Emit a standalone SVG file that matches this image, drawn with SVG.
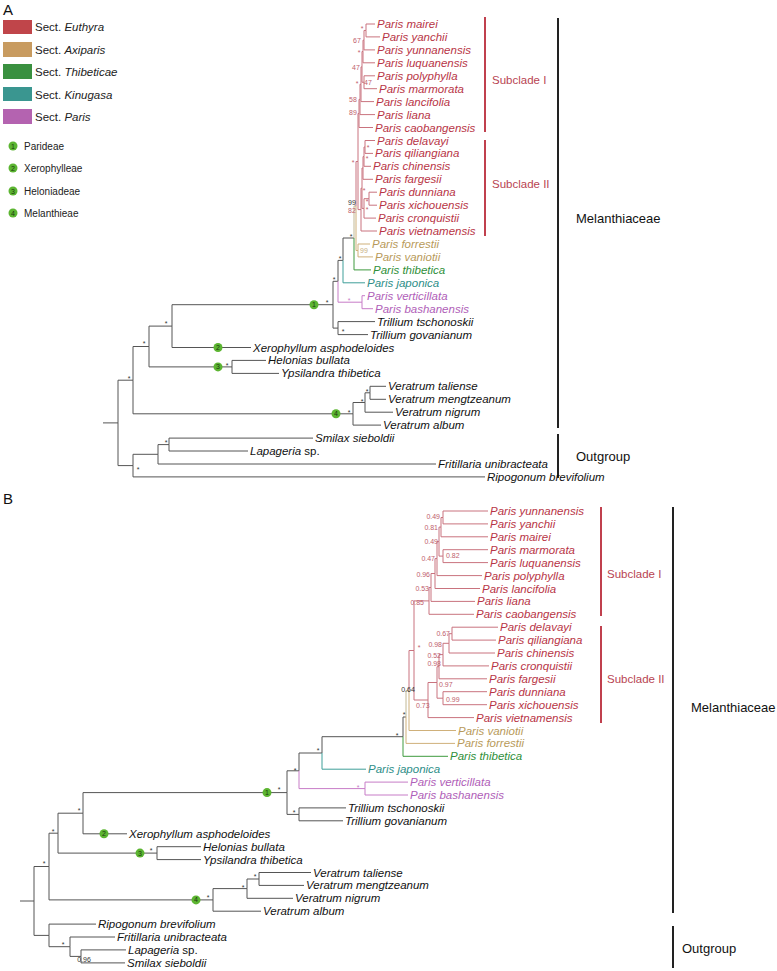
<svg xmlns="http://www.w3.org/2000/svg" width="777" height="971" viewBox="0 0 777 971">
<style>
text{font-family:"Liberation Sans",Arial,sans-serif;}
.t{font-size:11.5px;font-style:italic;}
.n{font-style:normal;}
.eu{fill:#b83546}.ax{fill:#b89a5a}.th{fill:#2f8f3a}.ki{fill:#2e8e88}.pa{fill:#b060b8}.bk{fill:#111}
.s{font-size:7px;fill:#333;text-anchor:middle}
.sr{font-size:7px;fill:#c0606c}
.l{fill:none;stroke:#555;stroke-width:1}
.le{fill:none;stroke:#c9737e;stroke-width:1}
.la{fill:none;stroke:#cfb07a;stroke-width:1}
.lo{fill:none;stroke:#c2b894;stroke-width:1}
.lt{fill:none;stroke:#3e9a3e;stroke-width:1}
.lk{fill:none;stroke:#3f9f99;stroke-width:1}
.lp{fill:none;stroke:#c77cc7;stroke-width:1}
.bar{stroke:#222;stroke-width:2}
.rbar{stroke:#c0404e;stroke-width:2}
.big{font-size:13px;fill:#111}
.sub{font-size:11.5px;fill:#b84452}
.leg{font-size:11.5px;fill:#222}
.leg2{font-size:10px;fill:#222}
.dot{fill:#5cb531}
.dn{font-size:7px;fill:#1a3a10;text-anchor:middle}
</style>

<!-- Panel labels and legend -->
<text x="3" y="15" style="font-size:15px" fill="#111">A</text>
<text x="3" y="504" style="font-size:15px" fill="#111">B</text>
<g id="legend-euthyra"><rect x="3" y="20" width="29" height="14" fill="#c0454a"/><text class="leg" x="35" y="31">Sect. <tspan font-style="italic">Euthyra</tspan></text></g>
<g id="legend-axiparis"><rect x="3" y="42" width="29" height="15" fill="#c89b60"/><text class="leg" x="35" y="54">Sect. <tspan font-style="italic">Axiparis</tspan></text></g>
<g id="legend-thibeticae"><rect x="3" y="64" width="29" height="15" fill="#3a9040"/><text class="leg" x="35" y="76">Sect. <tspan font-style="italic">Thibeticae</tspan></text></g>
<g id="legend-kinugasa"><rect x="3" y="87" width="29" height="14" fill="#3a9690"/><text class="leg" x="35" y="99">Sect. <tspan font-style="italic">Kinugasa</tspan></text></g>
<g id="legend-paris"><rect x="3" y="109" width="29" height="15" fill="#b463b0"/><text class="leg" x="35" y="121">Sect. <tspan font-style="italic">Paris</tspan></text></g>
<g id="legend-1"><circle class="dot" cx="13" cy="146" r="4.5"/><text class="dn" x="13" y="148.5">1</text><text class="leg2" x="24" y="149.5">Parideae</text></g>
<g id="legend-2"><circle class="dot" cx="13" cy="168" r="4.5"/><text class="dn" x="13" y="170.5">2</text><text class="leg2" x="24" y="171.5">Xerophylleae</text></g>
<g id="legend-3"><circle class="dot" cx="13" cy="191" r="4.5"/><text class="dn" x="13" y="193.5">3</text><text class="leg2" x="24" y="194.5">Heloniadeae</text></g>
<g id="legend-4"><circle class="dot" cx="13" cy="213" r="4.5"/><text class="dn" x="13" y="215.5">4</text><text class="leg2" x="24" y="216.5">Melanthieae</text></g>

<!-- Connectors -->
<g id="connectors">
<!-- Panel A -->
<path class="l" d="M103 422.9H118M118 422.9V380.2H133M118 422.9V465.6H133M133 380.2V346.5H149M133 380.2V413.8H353M149 346.5V326.1H172M149 346.5V366.9H232M172 326.1V304.7H333M172 326.1V347.5H251M232 366.9V360.4H266M232 366.9V373.4H279M353 413.8V402.5H365M353 413.8V425.1H381M365 402.5V392.8H370M365 402.5V412.2H393M370 392.8V386.3H386M370 392.8V399.3H386M133 465.6V454.3H158M133 465.6V476.9H485M158 454.3V444.6H169M158 454.3V464H436M169 444.6V438.1H313M169 444.6V451H248M333 304.7V281.3H338M333 304.7V328.1H338M338 328.1V321.6H375M338 328.1V334.6H368M338 281.3V260.4H343M343 260.4V238H354"/>
<path class="lp" d="M338 281.3V302.2H362M362 302.2V295.7H365M362 302.2V308.7H373"/>
<path class="lk" d="M343 260.4V282.8H365"/>
<path class="lt" d="M354 238V269.9H371"/>
<path class="lo" d="M354 238V206H356"/>
<path class="la" d="M356 206V250.5H358M358 250.5V244H370M358 250.5V256.9H373"/>
<path class="le" d="M356 206V161.5H358M358 161.5V113.5H359M358 161.5V209.6H361M359 113.5V99.4H360M359 113.5V127.5H373M360 99.4V84.25H361M360 99.4V114.6H375M361 84.25V66.9H362M361 84.25V101.6H374M362 66.9V51.5H363M362 66.9V82.25H364M364 82.25V75.8H375M364 82.25V88.7H377M363 51.5V40.2H364M363 51.5V62.8H375M364 40.2V30.45H366M364 40.2V49.9H375M366 30.45V24H375M366 30.45V36.9H380M361 209.6V188.2H362M361 209.6V231H377M362 188.2V168H363M362 188.2V208.4H364M363 168V156.6H364M363 168V179.3H373M364 156.6V147H365M364 156.6V166.3H371M365 147V140.5H375M365 147V153.4H373M364 208.4V198.7H369M364 208.4V218.1H376M369 198.7V192.2H377M369 198.7V205.2H377"/>
<!-- Panel B -->
<path class="l" d="M20 901H34M34 901V866.5H49M34 901V935.4H49M49 866.5V833.2H58M49 866.5V899.9H213M58 833.2V813.2H83M58 833.2V853.1H157M83 813.2V792.6H287M83 813.2V833.8H127M157 853.1V846.7H201M157 853.1V859.6H201M213 899.9V888.6H247M213 899.9V911.2H261M247 888.6V879H259M247 888.6V898.3H293M259 879V872.5H311M259 879V885.4H304M49 935.4V924.1H96M49 935.4V946.7H70M70 946.7V937H115M70 946.7V956.4H81M81 956.4V949.9H126M81 956.4V962.9H125M287 792.6V770.8H299M287 792.6V814.4H299M299 814.4V807.9H346M299 814.4V820.8H343M299 770.8V753H322M322 753V736.7H403M403 736.7V717H406"/>
<path class="lp" d="M299 770.8V788.6H365M365 788.6V782.1H408M365 788.6V795H408"/>
<path class="lk" d="M322 753V769.2H366"/>
<path class="lt" d="M403 736.7V756.3H448"/>
<path class="la" d="M406 717V743.4H455M409 690.5V730.5H456"/>
<path class="lo" d="M406 717V690.5H409"/>
<path class="le" d="M409 690.5V650.5H414M414 650.5V600.9H429M414 650.5V700H428M429 600.9V587.5H431M429 600.9V614.3H474M431 587.5V573.5H435M431 587.5V601.4H475M435 573.5V558.6H437M435 573.5V588.5H480M437 558.6V541.6H439M437 558.6V575.6H482M439 541.6V527.1H441M439 541.6V556.1H443M441 527.1V517.5H443M441 527.1V536.8H488M443 517.5V511H488M443 517.5V523.9H488M443 556.1V549.7H488M443 556.1V562.6H488M428 700V682.5H437M428 700V717.6H474M437 682.5V666.7H439M437 682.5V698.2H443M439 666.7V654.6H443M439 666.7V678.8H487M443 654.6V643.3H449M443 654.6V665.9H489M449 643.3V633.7H452M449 643.3V653H495M452 633.7V627.2H498M452 633.7V640.1H496M443 698.2V691.7H487M443 698.2V704.7H487"/>
<!-- clade bars -->
<line class="rbar" x1="485" y1="17" x2="485" y2="132"/>
<line class="rbar" x1="485" y1="140" x2="485" y2="236"/>
<line class="bar" x1="558" y1="18" x2="558" y2="428"/>
<line class="bar" x1="558" y1="434" x2="558" y2="478"/>
<line class="rbar" x1="601" y1="507" x2="601" y2="616"/>
<line class="rbar" x1="601" y1="626" x2="601" y2="723"/>
<line class="bar" x1="673" y1="507" x2="673" y2="913"/>
<line class="bar" x1="673" y1="926" x2="673" y2="968"/>
</g>

<!-- Clade labels -->
<g id="clade-labels">
<text class="sub" x="492" y="84">Subclade I</text>
<text class="sub" x="492" y="188">Subclade II</text>
<text class="big" x="576" y="222.5">Melanthiaceae</text>
<text class="big" x="576" y="460.5">Outgroup</text>
<text class="sub" x="607" y="578">Subclade I</text>
<text class="sub" x="607" y="683">Subclade II</text>
<text class="big" x="691" y="711.5">Melanthiaceae</text>
<text class="big" x="682" y="952.5">Outgroup</text>
</g>

<!-- Tribe markers -->
<g id="markers">
<g id="a-m1"><circle class="dot" cx="314" cy="304.7" r="4.5"/><text class="dn" x="314" y="307.2">1</text></g>
<g id="a-m2"><circle class="dot" cx="218" cy="347.5" r="4.5"/><text class="dn" x="218" y="350">2</text></g>
<g id="a-m3"><circle class="dot" cx="218" cy="366.9" r="4.5"/><text class="dn" x="218" y="369.4">3</text></g>
<g id="a-m4"><circle class="dot" cx="336" cy="413.8" r="4.5"/><text class="dn" x="336" y="416.3">4</text></g>
<g id="b-m1"><circle class="dot" cx="267" cy="792.6" r="4.5"/><text class="dn" x="267" y="795.1">1</text></g>
<g id="b-m2"><circle class="dot" cx="104" cy="833.8" r="4.5"/><text class="dn" x="104" y="836.3">2</text></g>
<g id="b-m3"><circle class="dot" cx="140" cy="853.1" r="4.5"/><text class="dn" x="140" y="855.6">3</text></g>
<g id="b-m4"><circle class="dot" cx="196" cy="899.9" r="4.5"/><text class="dn" x="196" y="902.4">4</text></g>
</g>

<!-- Support values A -->
<g id="support-a">
<text class="sr" x="362" y="31" text-anchor="middle">*</text>
<text class="sr" x="357" y="42.5" text-anchor="middle">67</text>
<text class="sr" x="359" y="55" text-anchor="middle">*</text>
<text class="sr" x="356" y="69.5" text-anchor="middle">47</text>
<text class="sr" x="357" y="86" text-anchor="middle">*</text>
<text class="sr" x="368" y="84.5" text-anchor="middle">47</text>
<text class="sr" x="353" y="101.5" text-anchor="middle">58</text>
<text class="sr" x="353" y="114.5" text-anchor="middle">89</text>
<text class="sr" x="353" y="165" text-anchor="middle">*</text>
<text class="sr" x="368" y="150" text-anchor="middle">*</text>
<text class="sr" x="367" y="161" text-anchor="middle">*</text>
<text class="sr" x="364" y="193" text-anchor="middle">*</text>
<text class="sr" x="367" y="204" text-anchor="middle">*</text>
<text class="sr" x="367" y="212" text-anchor="middle">*</text>
<text class="s" x="352" y="204.5">99</text>
<text class="sr" x="352" y="212.5" text-anchor="middle">82</text>
<text class="s" x="364" y="252.5" style="fill:#c8ae80">99</text>
<text class="s" x="351" y="239">*</text>
<text class="s" x="340" y="261">*</text>
<text class="s" x="334" y="282">*</text>
<text class="s" x="349" y="303" style="fill:#c77cc7">*</text>
<text class="s" x="343" y="334">*</text>
<text class="s" x="327" y="305">*</text>
<text class="s" x="166" y="326">*</text>
<text class="s" x="144" y="346">*</text>
<text class="s" x="227" y="368">*</text>
<text class="s" x="367" y="394">*</text>
<text class="s" x="362" y="404">*</text>
<text class="s" x="349" y="415">*</text>
<text class="s" x="129" y="381">*</text>
<text class="s" x="166" y="445">*</text>
<text class="s" x="138" y="472">*</text>
</g>

<!-- Support values B -->
<g id="support-b">
<text class="sr" x="440" y="518.5" text-anchor="end">0.49</text>
<text class="sr" x="438" y="529.5" text-anchor="end">0.81</text>
<text class="sr" x="446" y="557.5">0.82</text>
<text class="sr" x="438" y="543.5" text-anchor="end">0.49</text>
<text class="sr" x="435" y="560.5" text-anchor="end">0.47</text>
<text class="sr" x="430" y="576.5" text-anchor="end">0.96</text>
<text class="sr" x="429" y="590.5" text-anchor="end">0.53</text>
<text class="sr" x="424" y="604.5" text-anchor="end">0.85</text>
<text class="sr" x="450" y="635.5" text-anchor="end">0.67</text>
<text class="sr" x="442" y="646.5" text-anchor="end">0.98</text>
<text class="sr" x="441" y="657.5" text-anchor="end">0.52</text>
<text class="sr" x="441" y="665.5" text-anchor="end">0.98</text>
<text class="sr" x="446" y="701.5">0.99</text>
<text class="sr" x="439" y="686.5">0.97</text>
<text class="sr" x="416" y="707.5">0.73</text>
<text class="sr" x="419" y="650" text-anchor="middle">*</text>
<text class="s" x="408" y="691.5" text-anchor="end">0.64</text>
<text class="s" x="404" y="717">*</text>
<text class="s" x="397" y="738">*</text>
<text class="s" x="318" y="753">*</text>
<text class="s" x="295" y="773">*</text>
<text class="s" x="358" y="790" style="fill:#c77cc7">*</text>
<text class="s" x="294" y="815">*</text>
<text class="s" x="279" y="792">*</text>
<text class="s" x="79" y="813">*</text>
<text class="s" x="151" y="853">*</text>
<text class="s" x="53" y="834">*</text>
<text class="s" x="255" y="879">*</text>
<text class="s" x="243" y="890">*</text>
<text class="s" x="208" y="900">*</text>
<text class="s" x="44" y="866">*</text>
<text class="s" x="63" y="947">*</text>
<text class="s" x="84" y="962" text-anchor="start">0.96</text>
</g>

<!-- Taxa A -->
<g id="taxa-a">
<g id="a-mairei"><text class="t eu" x="377" y="28">Paris mairei</text></g>
<g id="a-yanchii"><text class="t eu" x="382" y="40.9">Paris yanchii</text></g>
<g id="a-yunnanensis"><text class="t eu" x="377" y="53.9">Paris yunnanensis</text></g>
<g id="a-luquanensis"><text class="t eu" x="377" y="66.8">Paris luquanensis</text></g>
<g id="a-polyphylla"><text class="t eu" x="377" y="79.8">Paris polyphylla</text></g>
<g id="a-marmorata"><text class="t eu" x="379" y="92.7">Paris marmorata</text></g>
<g id="a-lancifolia"><text class="t eu" x="376" y="105.6">Paris lancifolia</text></g>
<g id="a-liana"><text class="t eu" x="377" y="118.6">Paris liana</text></g>
<g id="a-caobangensis"><text class="t eu" x="375" y="131.5">Paris caobangensis</text></g>
<g id="a-delavayi"><text class="t eu" x="377" y="144.5">Paris delavayi</text></g>
<g id="a-qiliangiana"><text class="t eu" x="375" y="157.4">Paris qiliangiana</text></g>
<g id="a-chinensis"><text class="t eu" x="373" y="170.3">Paris chinensis</text></g>
<g id="a-fargesii"><text class="t eu" x="375" y="183.3">Paris fargesii</text></g>
<g id="a-dunniana"><text class="t eu" x="379" y="196.2">Paris dunniana</text></g>
<g id="a-xichouensis"><text class="t eu" x="379" y="209.2">Paris xichouensis</text></g>
<g id="a-cronquistii"><text class="t eu" x="378" y="222.1">Paris cronquistii</text></g>
<g id="a-vietnamensis"><text class="t eu" x="379" y="235">Paris vietnamensis</text></g>
<g id="a-forrestii"><text class="t ax" x="372" y="248">Paris forrestii</text></g>
<g id="a-vaniotii"><text class="t ax" x="375" y="260.9">Paris vaniotii</text></g>
<g id="a-thibetica"><text class="t th" x="373" y="273.9">Paris thibetica</text></g>
<g id="a-japonica"><text class="t ki" x="367" y="286.8">Paris japonica</text></g>
<g id="a-verticillata"><text class="t pa" x="367" y="299.7">Paris verticillata</text></g>
<g id="a-bashanensis"><text class="t pa" x="375" y="312.7">Paris bashanensis</text></g>
<g id="a-tschonoskii"><text class="t bk" x="377" y="325.6">Trillium tschonoskii</text></g>
<g id="a-govanianum"><text class="t bk" x="370" y="338.6">Trillium govanianum</text></g>
<g id="a-xerophyllum"><text class="t bk" x="253" y="351.5">Xerophyllum asphodeloides</text></g>
<g id="a-helonias"><text class="t bk" x="268" y="364.4">Helonias bullata</text></g>
<g id="a-ypsilandra"><text class="t bk" x="281" y="377.4">Ypsilandra thibetica</text></g>
<g id="a-taliense"><text class="t bk" x="388" y="390.3">Veratrum taliense</text></g>
<g id="a-mengtzeanum"><text class="t bk" x="388" y="403.3">Veratrum mengtzeanum</text></g>
<g id="a-nigrum"><text class="t bk" x="395" y="416.2">Veratrum nigrum</text></g>
<g id="a-album"><text class="t bk" x="383" y="429.1">Veratrum album</text></g>
<g id="a-smilax"><text class="t bk" x="315" y="442.1">Smilax sieboldii</text></g>
<g id="a-lapageria"><text class="t bk" x="250" y="455">Lapageria<tspan class="n"> sp.</tspan></text></g>
<g id="a-fritillaria"><text class="t bk" x="438" y="468">Fritillaria unibracteata</text></g>
<g id="a-ripogonum"><text class="t bk" x="487" y="480.9">Ripogonum brevifolium</text></g>
</g>

<!-- Taxa B -->
<g id="taxa-b">
<g id="b-yunnanensis"><text class="t eu" x="490" y="515">Paris yunnanensis</text></g>
<g id="b-yanchii"><text class="t eu" x="490" y="527.9">Paris yanchii</text></g>
<g id="b-mairei"><text class="t eu" x="490" y="540.8">Paris mairei</text></g>
<g id="b-marmorata"><text class="t eu" x="490" y="553.7">Paris marmorata</text></g>
<g id="b-luquanensis"><text class="t eu" x="490" y="566.6">Paris luquanensis</text></g>
<g id="b-polyphylla"><text class="t eu" x="484" y="579.6">Paris polyphylla</text></g>
<g id="b-lancifolia"><text class="t eu" x="482" y="592.5">Paris lancifolia</text></g>
<g id="b-liana"><text class="t eu" x="477" y="605.4">Paris liana</text></g>
<g id="b-caobangensis"><text class="t eu" x="476" y="618.3">Paris caobangensis</text></g>
<g id="b-delavayi"><text class="t eu" x="500" y="631.2">Paris delavayi</text></g>
<g id="b-qiliangiana"><text class="t eu" x="498" y="644.1">Paris qiliangiana</text></g>
<g id="b-chinensis"><text class="t eu" x="497" y="657">Paris chinensis</text></g>
<g id="b-cronquistii"><text class="t eu" x="491" y="669.9">Paris cronquistii</text></g>
<g id="b-fargesii"><text class="t eu" x="489" y="682.8">Paris fargesii</text></g>
<g id="b-dunniana"><text class="t eu" x="489" y="695.7">Paris dunniana</text></g>
<g id="b-xichouensis"><text class="t eu" x="489" y="708.7">Paris xichouensis</text></g>
<g id="b-vietnamensis"><text class="t eu" x="476" y="721.6">Paris vietnamensis</text></g>
<g id="b-vaniotii"><text class="t ax" x="458" y="734.5">Paris vaniotii</text></g>
<g id="b-forrestii"><text class="t ax" x="457" y="747.4">Paris forrestii</text></g>
<g id="b-thibetica"><text class="t th" x="450" y="760.3">Paris thibetica</text></g>
<g id="b-japonica"><text class="t ki" x="368" y="773.2">Paris japonica</text></g>
<g id="b-verticillata"><text class="t pa" x="410" y="786.1">Paris verticillata</text></g>
<g id="b-bashanensis"><text class="t pa" x="410" y="799">Paris bashanensis</text></g>
<g id="b-tschonoskii"><text class="t bk" x="348" y="811.9">Trillium tschonoskii</text></g>
<g id="b-govanianum"><text class="t bk" x="345" y="824.8">Trillium govanianum</text></g>
<g id="b-xerophyllum"><text class="t bk" x="129" y="837.8">Xerophyllum asphodeloides</text></g>
<g id="b-helonias"><text class="t bk" x="203" y="850.7">Helonias bullata</text></g>
<g id="b-ypsilandra"><text class="t bk" x="203" y="863.6">Ypsilandra thibetica</text></g>
<g id="b-taliense"><text class="t bk" x="313" y="876.5">Veratrum taliense</text></g>
<g id="b-mengtzeanum"><text class="t bk" x="306" y="889.4">Veratrum mengtzeanum</text></g>
<g id="b-nigrum"><text class="t bk" x="295" y="902.3">Veratrum nigrum</text></g>
<g id="b-album"><text class="t bk" x="263" y="915.2">Veratrum album</text></g>
<g id="b-ripogonum"><text class="t bk" x="98" y="928.1">Ripogonum brevifolium</text></g>
<g id="b-fritillaria"><text class="t bk" x="117" y="941">Fritillaria unibracteata</text></g>
<g id="b-lapageria"><text class="t bk" x="128" y="953.9">Lapageria<tspan class="n"> sp.</tspan></text></g>
<g id="b-smilax"><text class="t bk" x="127" y="966.9">Smilax sieboldii</text></g>
</g>
</svg>
